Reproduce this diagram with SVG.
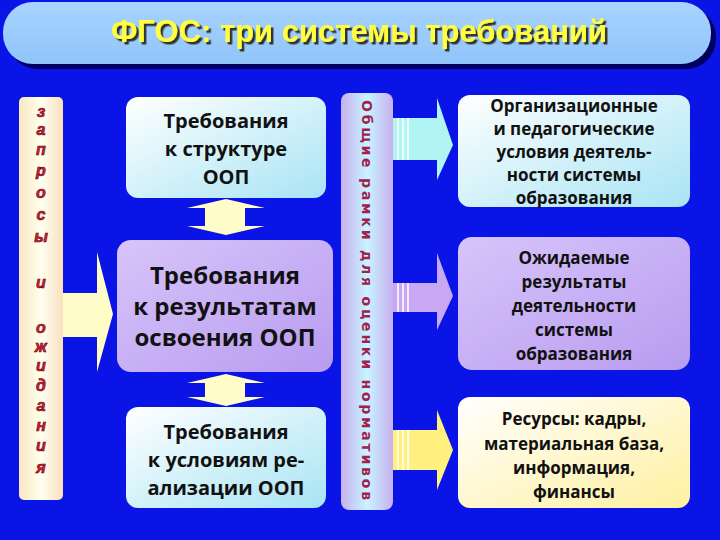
<svg xmlns="http://www.w3.org/2000/svg" width="720" height="540" viewBox="0 0 720 540">
<defs>
<linearGradient id="gBlue" x1="0" y1="0" x2="1" y2="1"><stop offset="0" stop-color="#ffffff"/><stop offset="1" stop-color="#a8e4f4"/></linearGradient>
<linearGradient id="gPurp" x1="0" y1="0" x2="1" y2="1"><stop offset="0" stop-color="#d8c4fa"/><stop offset="1" stop-color="#b89cf0"/></linearGradient>
<linearGradient id="gYel" x1="0" y1="0" x2="1" y2="1"><stop offset="0" stop-color="#ffffff"/><stop offset="1" stop-color="#fff0a0"/></linearGradient>
<linearGradient id="gLeft" x1="0" y1="0" x2="1" y2="0"><stop offset="0" stop-color="#f8e8c0"/><stop offset="0.5" stop-color="#fffff0"/><stop offset="1" stop-color="#f8e0c0"/></linearGradient>
<linearGradient id="gMid" x1="0" y1="0" x2="1" y2="0"><stop offset="0" stop-color="#c8b0f0"/><stop offset="0.5" stop-color="#c8f4ff"/><stop offset="1" stop-color="#c8b0f0"/></linearGradient>
<linearGradient id="gTitle" x1="0" y1="0" x2="0" y2="1"><stop offset="0" stop-color="#a8d4ff"/><stop offset="1" stop-color="#90c4fa"/></linearGradient>
<filter id="sh" x="-5%" y="-20%" width="110%" height="140%"><feDropShadow dx="2.5" dy="2.5" stdDeviation="0.5" flood-color="#333"/></filter>
</defs>
<style>
.t{font-family:"Open Sans","DejaVu Sans",sans-serif;font-weight:bold;fill:#111;text-anchor:middle}
.l{font-family:"Liberation Sans",sans-serif;font-weight:bold;font-style:italic;font-size:16px;fill:#d02040;stroke:#600;stroke-width:0.6;text-anchor:middle}
</style>
<rect width="720" height="540" fill="#0a14e6"/>
<g id="title">
<rect x="8" y="7" width="708" height="62" rx="30" fill="#000060"/>
<rect x="3" y="2" width="708" height="62" rx="30" fill="url(#gTitle)"/>
<text x="359" y="42" font-family="Liberation Sans,sans-serif" font-weight="bold" font-size="31" fill="#ffff40" text-anchor="middle" filter="url(#sh)">ФГОС: три системы требований</text>
</g>
<g id="left-banner">
<rect x="19" y="97" width="44" height="403" rx="5" fill="url(#gLeft)"/>
<text class="l" x="41" y="117">з</text><text class="l" x="41" y="135">а</text><text class="l" x="41" y="155">п</text><text class="l" x="41" y="176">р</text><text class="l" x="41" y="198">о</text><text class="l" x="41" y="220">с</text><text class="l" x="41" y="242">ы</text>
<text class="l" x="41" y="288">и</text>
<text class="l" x="41" y="333">о</text><text class="l" x="41" y="352">ж</text><text class="l" x="41" y="371">и</text><text class="l" x="41" y="391">д</text><text class="l" x="41" y="411">а</text><text class="l" x="41" y="431">н</text><text class="l" x="41" y="451">и</text><text class="l" x="41" y="473">я</text>
</g>
<g id="mid-banner">
<rect x="341" y="93" width="52" height="417" rx="8" fill="url(#gMid)"/>
<text transform="translate(362,100) rotate(90)" font-family="DejaVu Sans,sans-serif" font-weight="bold" font-size="14" fill="#a02050" textLength="400" lengthAdjust="spacing">Общие рамки для оценки нормативов</text>
</g>
<g id="connectors">
<path d="M63,293 H97 V252 L113,314 L97,372 V337 H63 Z" fill="#fffcc8"/>
<path d="M187,208 L226,199 L265,208 H245 V226 H265 L226,235 L187,226 H205 V208 Z" fill="#fffcc8"/>
<path d="M187,383 L226,374 L265,383 H245 V397 H265 L226,406 L187,397 H205 V383 Z" fill="#fffcc8"/>
<path d="M393,118 H437 V98 L453,145 L437,180 V160 H393 Z" fill="#b0f4f4"/>
<path d="M393,283 H437 V253 L453,296 L437,330 V312 H393 Z" fill="#c8a8f4"/>
<path d="M393,430 H437 V410 L453,450 L437,490 V470 H393 Z" fill="#fff080"/>
<g stroke="#fff" stroke-width="1.5"><path d="M398,118V160M403,118V160M408,118V160M398,283V312M403,283V312M408,283V312M398,430V470M403,430V470M408,430V470"/></g>
<line x1="462" y1="106" x2="510" y2="205" stroke="#333" stroke-width="1" stroke-dasharray="1.5,1.5"/>
</g>
<g id="box1"><rect x="126" y="97" width="200" height="101" rx="12" fill="url(#gBlue)"/>
<text class="t" font-size="20"><tspan x="226" y="128">Требования</tspan><tspan x="226" y="156">к структуре</tspan><tspan x="226" y="184">ООП</tspan></text></g>
<g id="box2"><rect x="117" y="240" width="216" height="132" rx="14" fill="url(#gPurp)"/>
<text class="t" font-size="24"><tspan x="225" y="284">Требования</tspan><tspan x="225" y="315">к результатам</tspan><tspan x="225" y="346">освоения ООП</tspan></text></g>
<g id="box3"><rect x="126" y="407" width="200" height="101" rx="12" fill="url(#gBlue)"/>
<text class="t" font-size="20"><tspan x="226" y="439">Требования</tspan><tspan x="226" y="467">к условиям ре-</tspan><tspan x="226" y="495">ализации ООП</tspan></text></g>
<g id="box4"><rect x="458" y="95" width="232" height="112" rx="12" fill="url(#gBlue)"/>
<text class="t" font-size="17"><tspan x="574" y="112">Организационные</tspan><tspan x="574" y="135">и педагогические</tspan><tspan x="574" y="158">условия деятель-</tspan><tspan x="574" y="181">ности системы</tspan><tspan x="574" y="204">образования</tspan></text></g>
<g id="box5"><rect x="458" y="237" width="232" height="133" rx="14" fill="url(#gPurp)"/>
<text class="t" font-size="17"><tspan x="574" y="264">Ожидаемые</tspan><tspan x="574" y="288">результаты</tspan><tspan x="574" y="312">деятельности</tspan><tspan x="574" y="336">системы</tspan><tspan x="574" y="360">образования</tspan></text></g>
<g id="box6"><rect x="458" y="397" width="232" height="111" rx="12" fill="url(#gYel)"/>
<text class="t" font-size="17"><tspan x="574" y="425">Ресурсы: кадры,</tspan><tspan x="574" y="450">материальная база,</tspan><tspan x="574" y="474">информация,</tspan><tspan x="574" y="498">финансы</tspan></text></g>
</svg>
